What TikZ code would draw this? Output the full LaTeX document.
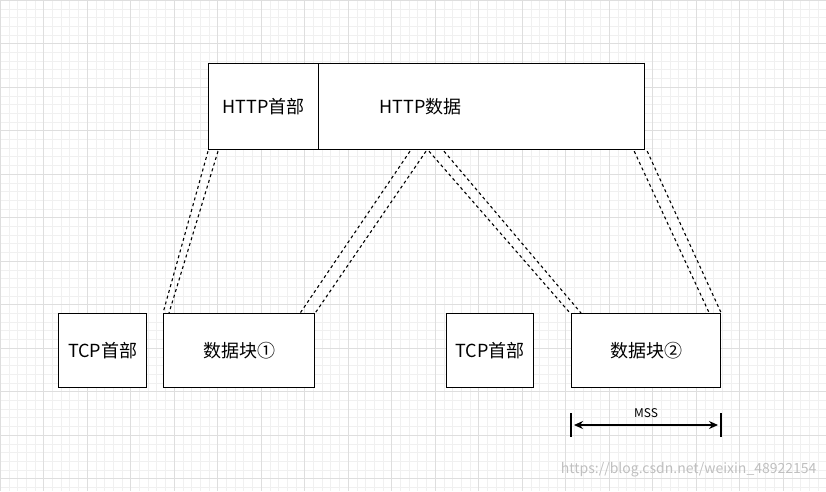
\documentclass[tikz,border=0pt]{standalone}
\usepackage{fontspec}
\setmainfont{Noto Sans CJK SC}
\usetikzlibrary{arrows.meta}
\tikzset{
  blk/.style={draw, line width=1.2pt, anchor=north west, inner sep=0pt, font=\fontsize{18}{20}\selectfont},
  cut/.style={line width=1.1pt, dash pattern=on 3pt off 3pt},
}
\begin{document}
\begin{tikzpicture}[x=1pt,y=-1pt]
  \useasboundingbox (0,0) rectangle (826,491);
  % background grid
  \foreach \i in {0,...,95} {
    \draw[black!6] (\i*8.7,0) -- (\i*8.7,491);
  }
  \foreach \j in {0,...,57} {
    \draw[black!6] (0,\j*8.7) -- (826,\j*8.7);
  }
  \foreach \i in {0,...,19} {
    \draw[black!13] (\i*43.5,0) -- (\i*43.5,491);
  }
  \foreach \j in {0,...,11} {
    \draw[black!13] (0,\j*43.5) -- (826,\j*43.5);
  }
  % http message
  \node[blk, fill=white, minimum width=110, minimum height=86] (hh) at (208,63) {HTTP首部};
  \node[blk, fill=white, minimum width=326, minimum height=86, text width=320, align=left] (hd) at (318,63) {\hspace{58pt}HTTP数据};
  % tcp segments
  \node[blk, fill=white, minimum width=88, minimum height=74] (th1) at (58,313) {TCP首部};
  \node[blk, fill=white, minimum width=151, minimum height=74] (d1) at (163,313) {数据块①};
  \node[blk, fill=white, minimum width=87, minimum height=74] (th2) at (446,313) {TCP首部};
  \node[blk, fill=white, minimum width=149, minimum height=74] (d2) at (571,313) {数据块②};
  % cut lines
  \draw[cut] (hd.south west) ++(-110,1) -- (d1.north west);
  \draw[cut] (hd.south west) ++(-100,1) -- ([xshift=6]d1.north west);
  \draw[cut] (hd.south west) ++(92,1) -- ([xshift=-15]d1.north east);
  \draw[cut] (hd.south west) ++(108,1) -- (d1.north east);
  \draw[cut] (hd.south west) ++(111,1) -- ([xshift=-1]d2.north west);
  \draw[cut] (hd.south west) ++(126,1) -- ([xshift=10]d2.north west);
  \draw[cut] (hd.south east) ++(-11,1) -- ([xshift=-12]d2.north east);
  \draw[cut] (hd.south east) ++(2,1) -- (d2.north east);
  % mss
  \coordinate (ma) at (571,425);
  \coordinate (mb) at (721,425);
  \draw[line width=1.2pt] (571,413) -- (571,437) (721,413) -- (721,437);
  \draw[line width=1.2pt, {Stealth[length=9pt,width=8pt]}-{Stealth[length=9pt,width=8pt]}] ([xshift=3]ma) -- node[above=3pt, font=\fontsize{12}{14}\selectfont] (mss) {MSS} ([xshift=-3]mb);
  % watermark
  \node[black!25, anchor=east, font=\fontsize{14}{16}\selectfont] (wm) at (820,470) {https://blog.csdn.net/weixin\_48922154};
\end{tikzpicture}
\end{document}
